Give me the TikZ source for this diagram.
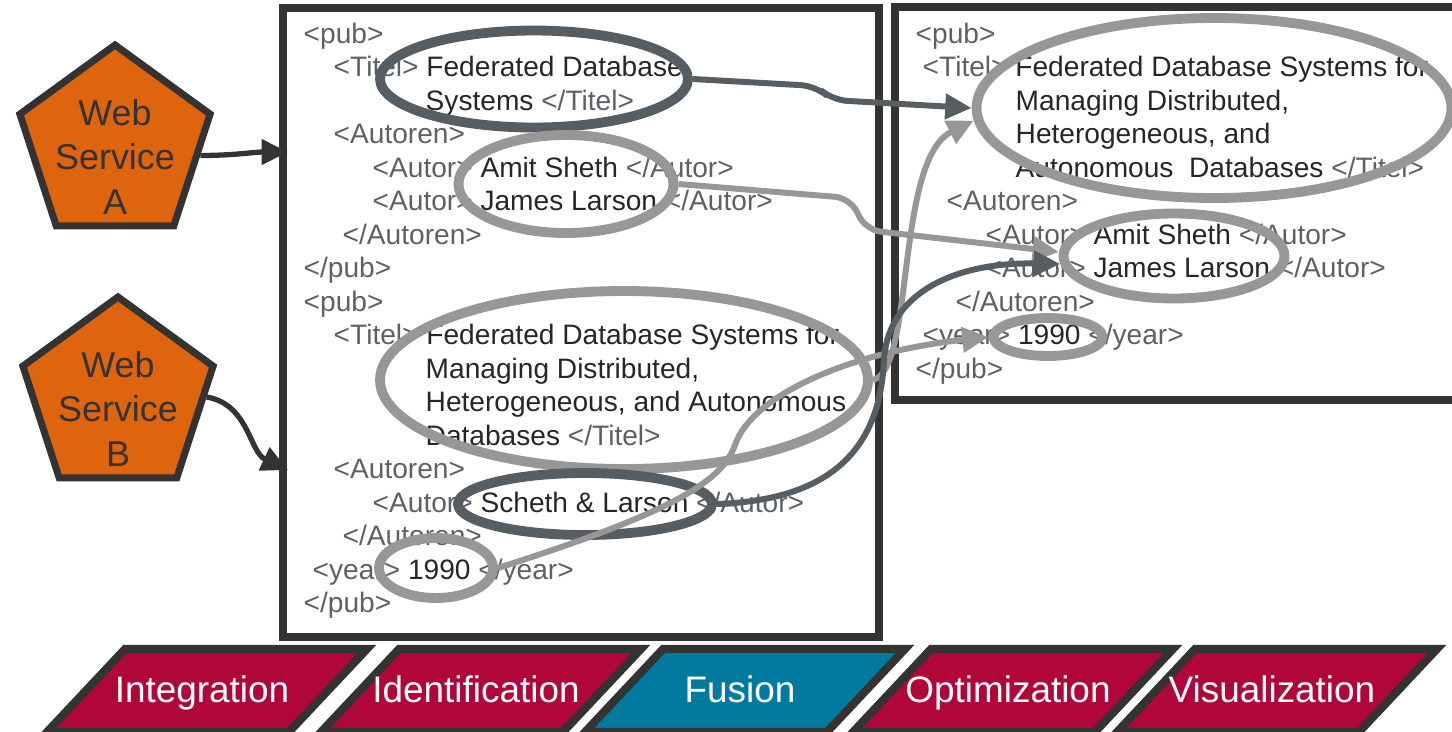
\documentclass[tikz,border=0pt]{standalone}
\usepackage{fontspec}
\setmainfont{Liberation Sans}
\usetikzlibrary{arrows.meta,shapes.geometric}
\definecolor{tagcol}{HTML}{5B6167}
\definecolor{txtcol}{HTML}{262626}
\definecolor{boxcol}{HTML}{333333}
\definecolor{lightcol}{HTML}{979797}
\definecolor{darkcol}{HTML}{565D63}
\definecolor{wsorange}{HTML}{DE640E}
\definecolor{stred}{HTML}{B0063A}
\definecolor{stblue}{HTML}{007A9E}
\newcommand\xtxt[1]{\textcolor{txtcol}{#1}}
\tikzset{
  >={Triangle[length=7.5pt,width=7pt]},
  {xml/.style} ={anchor=base west, inner sep=0, text=tagcol,
                 font=\fontsize{8}{9.5}\selectfont},
  {xmlbox/.style} ={draw=boxcol, line width=2pt},
  hilite/.style = {ellipse, draw=#1, line width=2.8pt, inner sep=0},
  hilite/.default = lightcol,
  conn/.style = {->, line width=1.7pt, draw=#1},
  conn/.default = lightcol,
  {webservice/.style} ={regular polygon, regular polygon sides=5,
                 draw=boxcol, line width=2pt, fill=wsorange,
                 minimum size=20mm, inner sep=0},
  {wslabel/.style} ={align=center, text=boxcol,
                 font=\fontsize{10.2}{12.8}\selectfont},
  {stagebox/.style} ={draw=boxcol, line width=2.3pt},
  {stagelabel/.style} ={anchor=base, text=white,
                 font=\fontsize{10.5}{12}\selectfont},
 }

\begin{document}
\begin{tikzpicture}[x=0.1mm,y=-0.1mm]
\useasboundingbox (0,0) rectangle (1452,732);
% boxes
\draw[xmlbox] (283,8) rectangle (879,637);
\draw[xmlbox] (895,7) rectangle (1480,400);
% source records
\foreach \n/\x/\lbl in {0/303/{<pub>},
    1/333/{<Titel> \xtxt{Federated Database}},
    2/425/{\xtxt{Systems} </Titel>},
    3/333/{<Autoren>},
    4/372/{<Autor> \xtxt{Amit Sheth} </Autor>},
    5/372/{<Autor> \xtxt{James Larson} </Autor>},
    6/342/{</Autoren>},
    7/303/{</pub>},
    8/303/{<pub>},
    9/333/{<Titel> \xtxt{Federated Database Systems for}},
    10/425/{\xtxt{Managing Distributed,}},
    11/425/{\xtxt{Heterogeneous, and Autonomous}},
    12/425/{\xtxt{Databases} </Titel>},
    13/333/{<Autoren>},
    14/372/{<Autor> \xtxt{Scheth \& Larson} </Autor>},
    15/342/{</Autoren>},
    16/312/{<year> \xtxt{1990} </year>},
    17/303/{</pub>}}
  \node[xml] (xa\n) at (\x,{43+33.5*\n}) {\lbl};
% fused record
\foreach \n/\x/\lbl in {0/915/{<pub>},
    1/922/{<Titel> \xtxt{Federated Database Systems for}},
    2/1015/{\xtxt{Managing Distributed,}},
    3/1015/{\xtxt{Heterogeneous, and}},
    4/1015/{\xtxt{Autonomous~~Databases} </Titel>},
    5/946/{<Autoren>},
    6/985/{<Autor> \xtxt{Amit Sheth} </Autor>},
    7/985/{<Autor> \xtxt{James Larson} </Autor>},
    8/955/{</Autoren>},
    9/922/{<year> \xtxt{1990} </year>},
    10/915/{</pub>}}
  \node[xml] (xf\n) at (\x,{43+33.5*\n}) {\lbl};
% web services
\node[webservice, label={[wslabel,yshift=-1.2mm]center:{Web\\Service\\A}}]
  (wsA) at (115,145) {};
\node[webservice, label={[wslabel,yshift=-1.2mm]center:{Web\\Service\\B}}]
  (wsB) at (118,397) {};
\coordinate (inA) at (288,152);
\coordinate (inB) at (288,470);
\draw[conn=boxcol, line width=1.5pt] (wsA.-7) to[out=0,in=180] (inA);
\draw[conn=boxcol, line width=1.5pt] (wsB.east) to[out=-10,in=155] (inB);
% marked values
\node[hilite=darkcol, minimum width=30.8mm, minimum height=9.7mm] (titA) at (534,79) {};
\node[hilite, minimum width=21.5mm, minimum height=9.8mm] (autA) at (566,184) {};
\node[hilite, minimum width=48.8mm, minimum height=17.8mm] (titB) at (624,380) {};
\node[hilite=darkcol, minimum width=25.4mm, minimum height=6.2mm] (autB) at (585,504) {};
\node[hilite, minimum width=11.4mm, minimum height=6mm] (yrB) at (436,568) {};
\node[hilite, minimum width=47.5mm, minimum height=18mm] (titF) at (1214,108) {};
\node[hilite, minimum width=22.1mm, minimum height=8.5mm] (autF) at (1174,256) {};
\node[hilite, minimum width=10.9mm, minimum height=3.8mm] (yrF) at (1048,337) {};
% fusion links
\coordinate (yk) at (735,445);
\coordinate (sk) at (884,360);
\draw[conn=darkcol, rounded corners=1.5mm] (titA.east) -- (816,86) -- (832,100) -- (titF.west);
\draw[conn, rounded corners=1.5mm] (autA.east) -- (850,198) -- (866,230) -- (autF.178);
\draw[conn] (yrB.east) .. controls (680,510) and (722,480) .. (yk)
            .. controls (752,395) and (850,352) .. (yrF.west);
\draw[conn] (titB.east) .. controls (915,370) and (895,160) .. (titF.183);
\draw[conn=darkcol] (autB.east) .. controls (830,500) and (880,450) .. (sk)
            .. controls (888,290) and (960,262) .. (autF.184);
% process stages
\foreach \x/\t/\c [count=\i] in {125/Integration/stred, 399/Identification/stred,
    663/Fusion/stblue, 931/Optimization/stred, 1195/Visualization/stred}
{
  \draw[stagebox, fill=\c] (\x,649) -- ++(242,0) -- ++(-78,83) -- ++(-242,0) -- cycle;
  \node[stagelabel] (st\i) at (\x+77,702) {\t};
}
\end{tikzpicture}
\end{document}
